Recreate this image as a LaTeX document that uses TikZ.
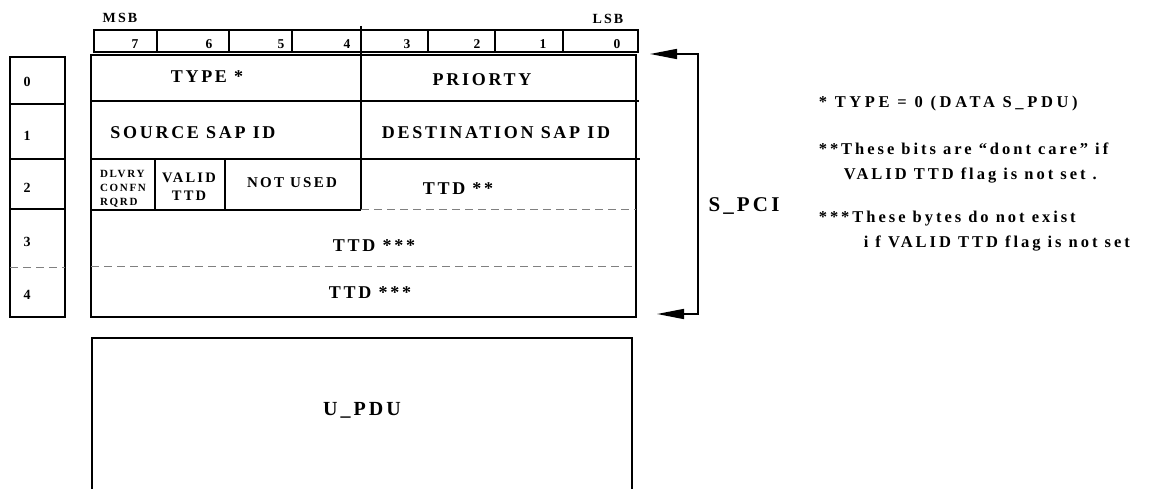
\documentclass[tikz,border=0pt]{standalone}
\usepackage{fontspec}
\setmainfont{Liberation Serif}
\newfontfamily\wide[LetterSpace=15]{Liberation Serif}
\newfontfamily\notewide[LetterSpace=18]{Liberation Serif}
\newfontfamily\typewide[LetterSpace=22]{Liberation Serif}
\usetikzlibrary{arrows.meta,positioning}

\tikzset{
  txt/.style 2 args={font=\wide\bfseries\fontsize{#1}{#2}\selectfont, inner sep=0pt},
  note/.style={font=\notewide\bfseries\fontsize{16.5}{16.5}\selectfont, inner sep=0pt, anchor=base west},
  cut/.style={draw=gray, line width=1pt, dash pattern=on 8pt off 5pt},
  brk/.style={line width=1.6pt, {Triangle[length=27pt,width=10pt]}-{Triangle[length=27pt,width=10pt]}}
}

\begin{document}
\begin{tikzpicture}[x=1pt,y=-1pt,line width=1.6pt]
            \useasboundingbox (0,0) rectangle (1149,489);
            % bit numbers
            \draw (94,30) rectangle (638,52);
            \foreach \x in {157,229,292,428,495,563}{
                    \draw (\x,30)--(\x,52);
                }
            \foreach \x/\b in {135/7,209/6,281/5,347/4,407/3,477/2,543/1,617/0}{
                    \node[txt={13.5}{13.5}] (bit\b) at (\x,44) {\b};
                }
            \node[txt={14}{14}] (msb) at (120,18) {MSB};
            \node[txt={14}{14}] (lsb) at (608,18.5) {LSB};
            % byte numbers
            \draw (10,57) rectangle (65,317);
            \foreach \y in {104,159,209}{
                    \draw (10,\y)--(65,\y);
                }
            \draw[cut] (10,268)--(65,268);
            \foreach \y/\n in {82/0,136/1,188/2,242/3,295/4}{
                    \node[txt={14}{14}] (byte\n) at (27,\y) {\n};
                }
            % header fields
            \draw (91,55) rectangle (636,317);
            \draw (361,26)--(361,210);
            \draw (91,101)--(639,101);
            \draw (91,159)--(640,159);
            \draw (91,210)--(361,210);
            \draw (155,159)--(155,210);
            \draw (225,159)--(225,210);
            \draw[cut] (361,210)--(636,210);
            \draw[cut] (91,267)--(636,267);
            \node[txt={18}{18}] (type) at (207,76.5) {TYPE *};
            \node[txt={18}{18}] (prio) at (482,80) {PRIORTY};
            \node[txt={18}{18}] (src) at (193,132.5) {SOURCE SAP ID};
            \node[txt={18}{18}] (dst) at (496,132.5) {DESTINATION SAP ID};
            \node[txt={11}{14}, align=left] (dlv) at (123,189) {DLVRY\\CONFN\\RQRD};
            \node[txt={14.5}{17.5}, align=center] (valid) at (189,186.5) {VALID\\TTD};
            \node[txt={15}{15}] (unused) at (292,183) {NOT USED};
            \node[txt={18}{18}] (ttda) at (458,189) {TTD **};
            \node[txt={18}{18}] (ttdb) at (374,246) {TTD ***};
            \node[txt={18}{18}] (ttdc) at (370,293) {TTD ***};
            % bracket
            \coordinate (topend) at (650,54);
            \coordinate (topbend) at (698,54);
            \coordinate (botbend) at (698,314);
            \coordinate (botend) at (657,314);
            \draw[brk] (topend)--(topbend)--(botbend)--(botend);
            \node[txt={21}{21}] (spci) at (744,206) {S\_PCI};
            % notes
            \node[note, font=\typewide\bfseries\fontsize{16.5}{16.5}\selectfont] (note1) at (818,107.5) {* TYPE = 0 (DATA S\_PDU)};
            \node[note] (note2) at (818,155) {**These bits are “dont care” if};
            \node[note] (note3) at (843,179.5) {VALID TTD flag is not set .};
            \node[note] (note4) at (818,223) {***These bytes do not exist};
            \node[note] (note5) at (863,248) {i f VALID TTD flag is not set};
            % user data
            \draw (92,489)--(92,338)--(632,338)--(632,489);
            \node[txt={20}{20}] (updu) at (362,410) {U\_PDU};
        \end{tikzpicture}
\end{document}
